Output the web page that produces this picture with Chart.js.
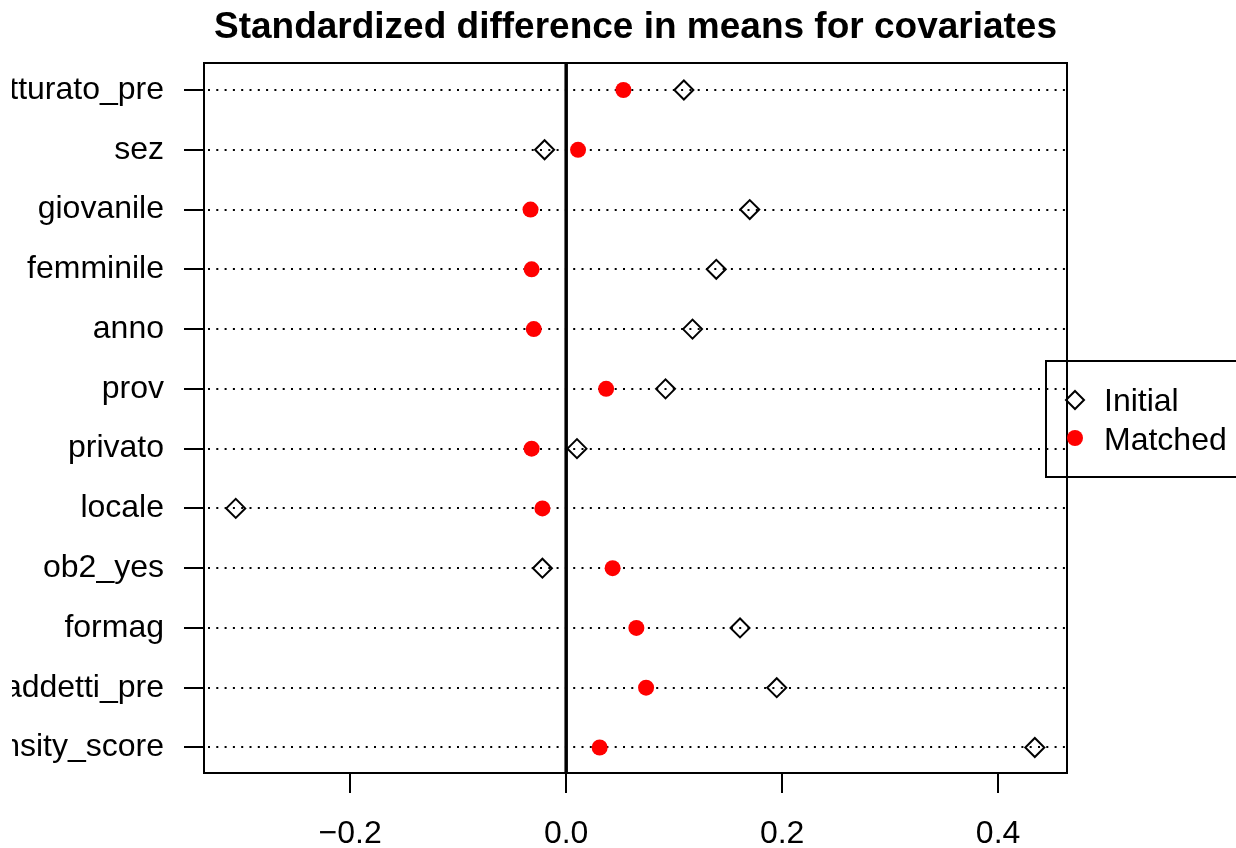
<!DOCTYPE html>
<html>
<head>
<meta charset="utf-8">
<script src="https://cdn.jsdelivr.net/npm/chart.js@4/dist/chart.umd.min.js"></script>
<style>
  html, body { margin: 0; padding: 0; background: #fff; }
  canvas { display: block; }
</style>
</head>
<body>
<canvas id="dotchart" width="1236" height="848"></canvas>
<script>
// covariates, top to bottom as in the dotchart
const covariates = ['fatturato_pre', 'sez', 'giovanile', 'femminile', 'anno', 'prov',
                    'privato', 'locale', 'ob2_yes', 'formag', 'n_addetti_pre', 'propensity_score'];
const initialDiff = [0.109, -0.020, 0.170, 0.139, 0.117, 0.092, 0.010, -0.306, -0.022, 0.161, 0.195, 0.434];
const matchedDiff = [0.053, 0.011, -0.033, -0.032, -0.030, 0.037, -0.032, -0.022, 0.043, 0.065, 0.074, 0.031];
const xTicks = [-0.2, 0.0, 0.2, 0.4];
const titleText = 'Standardized difference in means for covariates';
const legendNames = ['Initial', 'Matched'];

const n = covariates.length;
const FONT = "'Liberation Sans', Arial, Helvetica, sans-serif";

function toPoints(vals) {
  return vals.map((v, i) => ({ x: v, y: n - i }));
}

// the R device cuts the long labels a bit in from the left edge
const clipLeft = {
  id: 'clipLeft',
  beforeDraw(chart) {
    const ctx = chart.ctx;
    ctx.save();
    ctx.beginPath();
    ctx.rect(12, 0, chart.width - 12, chart.height);
    ctx.clip();
  },
  afterDraw(chart) {
    chart.ctx.restore();
  }
};

// dotted lines, zero line, box, axis ticks, title, legend
const decor = {
  id: 'decor',
  beforeDatasetsDraw(chart) {
    const ctx = chart.ctx;
    const a = chart.chartArea;
    const xs = chart.scales.x, ys = chart.scales.y;
    ctx.save();
    // dotted guide lines
    ctx.strokeStyle = '#000';
    ctx.lineWidth = 2;
    ctx.setLineDash([2, 6.3]);
    for (let i = 1; i <= n; i++) {
      const y = Math.round(ys.getPixelForValue(i));
      ctx.beginPath();
      ctx.moveTo(a.left + 4, y);
      ctx.lineTo(a.right, y);
      ctx.stroke();
    }
    ctx.setLineDash([]);
    // zero line
    const x0 = xs.getPixelForValue(0);
    ctx.lineWidth = 3.5;
    ctx.beginPath();
    ctx.moveTo(x0, a.top);
    ctx.lineTo(x0, a.bottom);
    ctx.stroke();
    // box
    ctx.lineWidth = 2;
    ctx.strokeRect(a.left, a.top, a.right - a.left, a.bottom - a.top);
    // tick marks
    for (let i = 1; i <= n; i++) {
      const y = Math.round(ys.getPixelForValue(i));
      ctx.beginPath();
      ctx.moveTo(a.left - 20, y);
      ctx.lineTo(a.left, y);
      ctx.stroke();
    }
    xTicks.forEach(t => {
      const x = Math.round(xs.getPixelForValue(t));
      ctx.beginPath();
      ctx.moveTo(x, a.bottom);
      ctx.lineTo(x, a.bottom + 20);
      ctx.stroke();
    });
    ctx.restore();
  },
  afterDraw(chart) {
    const ctx = chart.ctx;
    const a = chart.chartArea;
    ctx.save();
    // title
    ctx.fillStyle = '#000';
    ctx.font = 'bold 37px ' + FONT;
    ctx.textAlign = 'center';
    ctx.textBaseline = 'alphabetic';
    ctx.fillText(titleText, (a.left + a.right) / 2, 38);
    // legend box
    ctx.strokeStyle = '#000';
    ctx.lineWidth = 2;
    ctx.strokeRect(1046, 361, 220, 116);
    // legend symbols
    ctx.beginPath();
    ctx.moveTo(1075, 391);
    ctx.lineTo(1084, 400);
    ctx.lineTo(1075, 409);
    ctx.lineTo(1066, 400);
    ctx.closePath();
    ctx.stroke();
    ctx.fillStyle = '#ff0000';
    ctx.beginPath();
    ctx.arc(1075, 438, 8, 0, Math.PI * 2);
    ctx.fill();
    // legend text
    ctx.fillStyle = '#000';
    ctx.font = '32px ' + FONT;
    ctx.textAlign = 'left';
    ctx.fillText(legendNames[0], 1104, 411);
    ctx.fillText(legendNames[1], 1104, 450);
    ctx.restore();
  }
};

new Chart(document.getElementById('dotchart'), {
  type: 'scatter',
  data: {
    datasets: [
      {
        label: legendNames[0],
        data: toPoints(initialDiff),
        pointStyle: 'rectRot',
        pointRadius: 9.5,
        pointBorderWidth: 2,
        pointBorderColor: '#000',
        pointBackgroundColor: 'rgba(0,0,0,0)'
      },
      {
        label: legendNames[1],
        data: toPoints(matchedDiff),
        pointStyle: 'circle',
        pointRadius: 8,
        pointBorderWidth: 0,
        pointBackgroundColor: '#ff0000'
      }
    ]
  },
  options: {
    responsive: false,
    animation: false,
    layout: { padding: { top: 63, right: 169, bottom: 0, left: 0 } },
    plugins: {
      legend: { display: false },
      tooltip: { enabled: false }
    },
    scales: {
      x: {
        type: 'linear',
        min: -0.3354,
        max: 0.4638,
        afterBuildTicks: scale => { scale.ticks = xTicks.map(v => ({ value: v })); },
        afterFit: scale => { scale.height = 75; },
        grid: { display: true, drawOnChartArea: false, drawTicks: false },
        border: { display: false },
        ticks: {
          padding: 42,
          color: '#000',
          maxRotation: 0,
          autoSkip: false,
          font: { family: FONT, size: 32 },
          callback: v => v.toFixed(1).replace('-', '\u2212')
        }
      },
      y: {
        type: 'linear',
        min: 0.573,
        max: n + 0.452,
        afterBuildTicks: scale => {
          const t = [];
          for (let i = 1; i <= n; i++) t.push({ value: i });
          scale.ticks = t;
        },
        afterFit: scale => { scale.width = 204; },
        grid: { display: true, drawOnChartArea: false, drawTicks: false },
        border: { display: false },
        ticks: {
          padding: 40,
          color: '#000',
          autoSkip: false,
          font: { family: FONT, size: 32 },
          callback: v => covariates[n - v]
        }
      }
    }
  },
  plugins: [clipLeft, decor]
});
</script>
</body>
</html>
